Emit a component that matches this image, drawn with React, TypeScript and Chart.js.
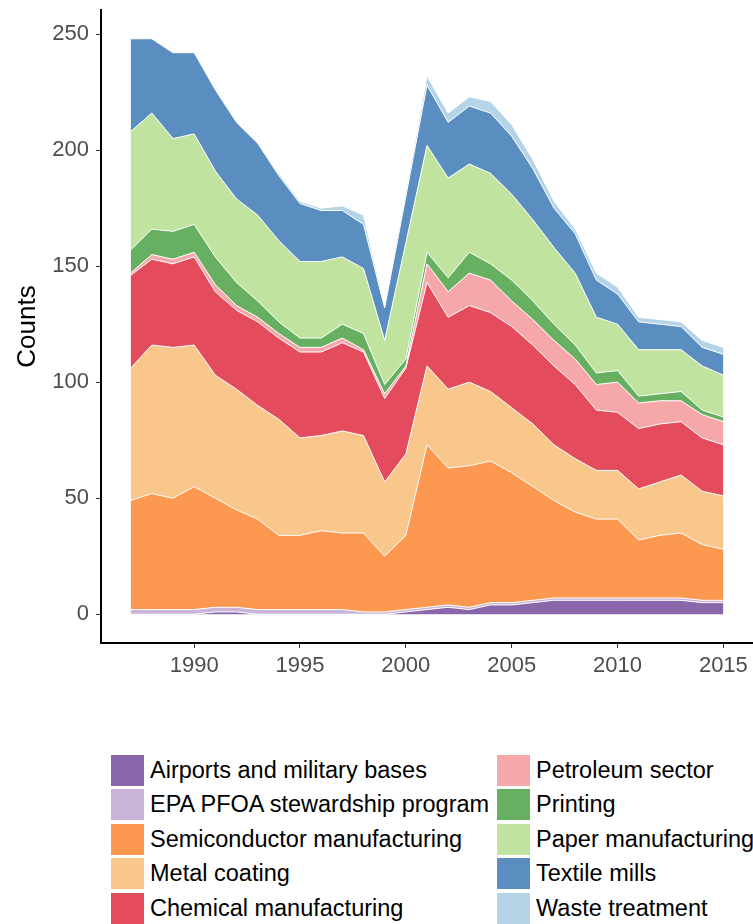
import React, { useEffect, useRef } from "react";
import { Chart, registerables } from "chart.js";

Chart.register(...registerables);

const years = [1987, 1988, 1989, 1990, 1991, 1992, 1993, 1994, 1995, 1996, 1997, 1998, 1999, 2000, 2001, 2002, 2003, 2004, 2005, 2006, 2007, 2008, 2009, 2010, 2011, 2012, 2013, 2014, 2015];

const airports = [0, 0, 0, 0, 1, 1, 0, 0, 0, 0, 0, 0, 0, 1, 2, 3, 2, 4, 4, 5, 6, 6, 6, 6, 6, 6, 6, 5, 5];
const epaStewardship = [2, 2, 2, 2, 2, 2, 2, 2, 2, 2, 2, 1, 1, 1, 1, 1, 1, 1, 1, 1, 1, 1, 1, 1, 1, 1, 1, 1, 1];
const semiconductor = [47, 50, 48, 53, 47, 42, 39, 32, 32, 34, 33, 34, 24, 32, 70, 59, 61, 61, 56, 49, 42, 37, 34, 34, 25, 27, 28, 24, 22];
const metalCoating = [57, 64, 65, 61, 53, 52, 49, 50, 42, 41, 44, 42, 32, 35, 34, 34, 36, 30, 28, 27, 24, 23, 21, 21, 22, 23, 25, 23, 23];
const chemical = [40, 37, 36, 38, 36, 34, 36, 35, 37, 36, 38, 36, 36, 37, 36, 31, 33, 34, 35, 34, 34, 32, 26, 25, 26, 25, 23, 23, 22];
const petroleum = [1, 2, 2, 2, 3, 2, 2, 2, 2, 2, 2, 1, 2, 1, 8, 11, 14, 14, 11, 11, 11, 11, 11, 13, 11, 10, 9, 10, 10];
const printing = [10, 11, 12, 12, 12, 10, 7, 5, 4, 4, 6, 7, 4, 3, 5, 6, 9, 7, 9, 8, 7, 6, 5, 5, 3, 3, 4, 2, 2];
const paper = [51, 50, 40, 39, 37, 36, 37, 35, 33, 33, 29, 28, 19, 50, 46, 43, 38, 39, 37, 35, 33, 31, 24, 20, 20, 19, 18, 19, 18];
const textile = [40, 32, 37, 35, 35, 33, 31, 28, 25, 22, 20, 19, 14, 20, 26, 24, 25, 26, 25, 22, 17, 17, 16, 13, 12, 11, 10, 8, 9];
const wasteTreatment = [0, 0, 0, 0, 0, 0, 0, 1, 1, 1, 2, 4, 1, 2, 4, 4, 4, 5, 5, 4, 3, 2, 3, 3, 2, 2, 2, 3, 3];

const seriesNames = [
  "Airports and military bases",
  "EPA PFOA stewardship program",
  "Semiconductor manufacturing",
  "Metal coating",
  "Chemical manufacturing",
  "Petroleum sector",
  "Printing",
  "Paper manufacturing",
  "Textile mills",
  "Waste treatment",
];

const seriesColors = [
  "#8A67AB",
  "#C9B3D6",
  "#FC9850",
  "#F9C68B",
  "#E44B5D",
  "#F5A7AA",
  "#67B062",
  "#C0E3A0",
  "#5B8EC0",
  "#B5D4E8",
];

const yTicks = [0, 50, 100, 150, 200, 250];
const xTicks = [1990, 1995, 2000, 2005, 2010, 2015];

const FONT = "'Liberation Sans', Arial, Helvetica, sans-serif";

export default function App() {
  const ref = useRef<HTMLCanvasElement>(null);

  useEffect(() => {
    document.body.style.margin = "0";
    const series = [airports, epaStewardship, semiconductor, metalCoating, chemical, petroleum, printing, paper, textile, wasteTreatment];
    const chart = new Chart(ref.current as HTMLCanvasElement, {
      type: "line",
      data: {
        datasets: series.map((vals, i) => ({
          label: seriesNames[i],
          data: years.map((yr, j) => ({ x: yr, y: vals[j] })),
          backgroundColor: seriesColors[i],
          borderColor: "#ffffff",
          borderWidth: 1,
          pointRadius: 0,
          pointHoverRadius: 0,
          tension: 0,
          fill: i === 0 ? "origin" : "-1",
        })),
      },
      options: {
        animation: false,
        responsive: false,
        devicePixelRatio: 1,
        layout: { padding: { top: 10, left: 0, right: 0, bottom: 0 } },
        plugins: { legend: { display: false }, tooltip: { enabled: false } },
        scales: {
          x: {
            type: "linear",
            min: 1985.6,
            max: 2016.4,
            afterBuildTicks: (axis: any) => {
              axis.ticks = xTicks.map((v) => ({ value: v }));
            },
            afterFit: (s: any) => {
              s.height = 45;
              s.paddingLeft = 0;
              s.paddingRight = 0;
            },
            grid: { display: true, drawOnChartArea: false, drawTicks: true, tickLength: 5, color: "#333333", lineWidth: 1 },
            border: { display: true, color: "#000000", width: 2 },
            ticks: {
              color: "#4D4D4D",
              padding: 5,
              maxRotation: 0,
              font: { size: 22, family: FONT },
              callback: (v: any) => String(v),
            },
          },
          y: {
            type: "linear",
            stacked: true,
            min: -12.4,
            max: 260.4,
            afterBuildTicks: (axis: any) => {
              axis.ticks = yTicks.map((v) => ({ value: v }));
            },
            afterFit: (s: any) => {
              s.width = 101;
              s.paddingTop = 0;
              s.paddingBottom = 0;
            },
            grid: { display: true, drawOnChartArea: false, drawTicks: true, tickLength: 5, color: "#333333", lineWidth: 1 },
            border: { display: true, color: "#000000", width: 2 },
            ticks: {
              color: "#4D4D4D",
              padding: 7,
              font: { size: 22, family: FONT },
              callback: (v: any) => String(v),
            },
            title: {
              display: true,
              text: "Counts",
              color: "#000000",
              font: { size: 26, family: FONT },
              padding: { top: 12, bottom: 0 },
            },
          },
        },
      },
    });
    return () => chart.destroy();
  }, []);

  const legendRows = 5;
  return (
    <div style={{ position: "relative", width: 753, height: 924, background: "#ffffff", overflow: "hidden" }}>
      <canvas ref={ref} width={753} height={688} style={{ display: "block", width: 753, height: 688 }} />
      {seriesNames.map((name, i) => {
        const col = Math.floor(i / legendRows);
        const row = i % legendRows;
        const boxLeft = col === 0 ? 111 : 497;
        const top = 755 + row * 34.4;
        return (
          <div key={name}>
            <div
              style={{
                position: "absolute",
                left: boxLeft,
                top: top,
                width: 33,
                height: 31,
                background: seriesColors[i],
              }}
            />
            <div
              style={{
                position: "absolute",
                left: boxLeft + 39,
                top: top,
                height: 31,
                lineHeight: "31px",
                fontFamily: FONT,
                fontSize: 23.5,
                color: "#000000",
                whiteSpace: "nowrap",
              }}
            >
              {name}
            </div>
          </div>
        );
      })}
    </div>
  );
}
